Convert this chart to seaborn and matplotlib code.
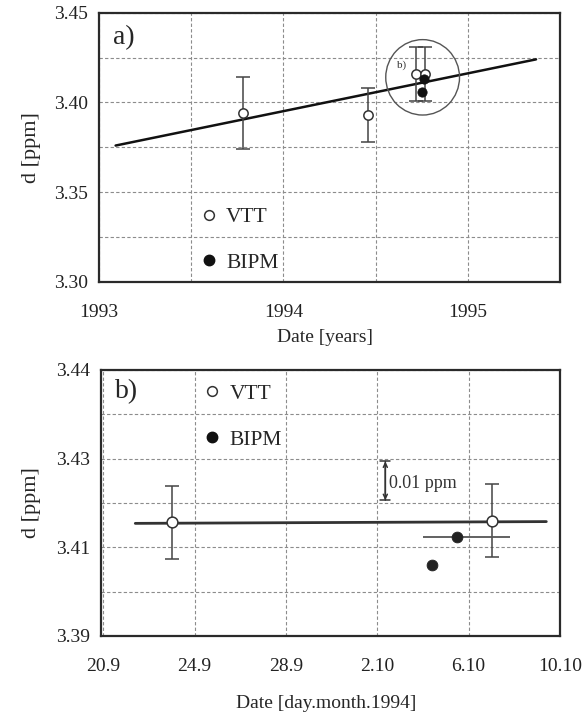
import matplotlib
matplotlib.use("Agg")
import matplotlib.pyplot as plt
from matplotlib.patches import Ellipse
from matplotlib.lines import Line2D
import pandas as pd
import seaborn as sns

# ===================== DATA panel a) (years) =====================
a_vtt_year = [1993.78, 1994.46, 1994.72, 1994.77]
a_vtt_d = [3.394, 3.393, 3.416, 3.416]
a_vtt_err = [0.020, 0.015, 0.015, 0.015]
a_bipm_year = [1994.75, 1994.76]
a_bipm_d = [3.406, 3.413]
a_fit_year = [1993.09, 1995.37]
a_fit_d = [3.376, 3.424]
a_xticks = [1993, 1994, 1995]
a_yticks = [3.30, 3.35, 3.40, 3.45]

# ===================== DATA panel b) (days after 20.9) =====================
b_vtt_day = [3.0, 17.0]
b_vtt_d = [3.4156, 3.4160]
b_vtt_err = [0.0082, 0.0082]
b_bipm_day = [14.4, 15.5]
b_bipm_d = [3.4061, 3.4124]
b_bipm_xerr_lo = [0.0, 1.5]
b_bipm_xerr_hi = [0.0, 2.3]
b_fit_day = [1.4, 19.4]
b_fit_d = [3.4154, 3.4158]
b_xticks = [0, 4, 8, 12, 16, 20]
b_xtick_labels = ["20.9", "24.9", "28.9", "2.10", "6.10", "10.10"]
b_yticks = [3.39, 3.41, 3.43, 3.45]
b_ytick_labels = ["3.39", "3.41", "3.43", "3.44"]

df_a_vtt = pd.DataFrame({"x": a_vtt_year, "d": a_vtt_d, "err": a_vtt_err})
df_a_bipm = pd.DataFrame({"x": a_bipm_year, "d": a_bipm_d})
df_a_fit = pd.DataFrame({"x": a_fit_year, "d": a_fit_d})
df_b_vtt = pd.DataFrame({"x": b_vtt_day, "d": b_vtt_d, "err": b_vtt_err})
df_b_bipm = pd.DataFrame({"x": b_bipm_day, "d": b_bipm_d,
                          "lo": b_bipm_xerr_lo, "hi": b_bipm_xerr_hi})
df_b_fit = pd.DataFrame({"x": b_fit_day, "d": b_fit_d})

# ===================== STYLE =====================
sns.set_theme(style="white")
plt.rcParams["font.family"] = ["Liberation Serif", "DejaVu Serif"]

DARK = "#2a2a2a"
GRID = "#8c8c8c"


def style_axes(ax):
    for sp in ax.spines.values():
        sp.set_color(DARK)
        sp.set_linewidth(1.6)
    ax.grid(True, which="both", color=GRID, linestyle=(0, (3, 2)), linewidth=0.8)
    ax.tick_params(which="both", length=0, labelsize=14, colors="#222222")
    ax.tick_params(axis="x", pad=16)
    ax.tick_params(axis="y", pad=8)
    ax.set_axisbelow(True)


def legend(ax, x0, y0):
    h_vtt = Line2D([], [], ls="none", marker="o", ms=7, mfc="white", mec="#333333", mew=1.1)
    h_bipm = Line2D([], [], ls="none", marker="o", ms=7.5, mfc="#111111", mec="#111111")
    ax.legend([h_vtt, h_bipm], ["VTT", "BIPM"], loc="center left",
              bbox_to_anchor=(x0, y0), frameon=False, fontsize=15.5,
              handlelength=0.6, handletextpad=0.5, labelspacing=1.2,
              borderpad=0, borderaxespad=0)


fig = plt.figure(figsize=(5.88, 7.17), dpi=100)
ax_a = fig.add_axes([0.1684, 0.6067, 0.784, 0.3756])
ax_b = fig.add_axes([0.1718, 0.1130, 0.7806, 0.3710])

# ---------------- panel a) ----------------
sns.lineplot(data=df_a_fit, x="x", y="d", ax=ax_a, color="#111111", lw=1.8)
ax_a.errorbar(df_a_vtt["x"], df_a_vtt["d"], yerr=df_a_vtt["err"], fmt="none",
              ecolor="#444444", elinewidth=1.1, capsize=5, capthick=1.1)
sns.scatterplot(data=df_a_vtt, x="x", y="d", ax=ax_a, marker="o", s=45,
                facecolor="white", edgecolor="#333333", linewidth=1.1, zorder=4)
sns.scatterplot(data=df_a_bipm, x="x", y="d", ax=ax_a, marker="o", s=45,
                color="#111111", edgecolor="#111111", zorder=5)
ax_a.add_patch(Ellipse((1994.755, 3.414), 0.40, 0.042, fill=False,
                       edgecolor="#555555", lw=1.0, zorder=3))
ax_a.text(1994.64, 3.421, "b)", fontsize=8, ha="center", va="center", color="#333333")

ax_a.set_xlim(1993, 1995.5)
ax_a.set_ylim(3.30, 3.45)
ax_a.set_xticks(a_xticks)
ax_a.set_xticks([1993.5, 1994.5], minor=True)
ax_a.set_yticks(a_yticks, labels=[f"{v:.2f}" for v in a_yticks])
ax_a.set_yticks([3.325, 3.375, 3.425], minor=True)
style_axes(ax_a)
ax_a.set_xlabel("Date [years]", fontsize=14)
ax_a.set_ylabel("d [ppm]", fontsize=16)
ax_a.xaxis.set_label_coords(0.49, -0.175)
ax_a.yaxis.set_label_coords(-0.125, 0.5)
ax_a.text(0.03, 0.955, "a)", transform=ax_a.transAxes, fontsize=20, va="top", ha="left")
legend(ax_a, 0.2245, 0.156)

# ---------------- panel b) ----------------
sns.lineplot(data=df_b_fit, x="x", y="d", ax=ax_b, color="#333333", lw=2.0)
ax_b.errorbar(df_b_vtt["x"], df_b_vtt["d"], yerr=df_b_vtt["err"], fmt="none",
              ecolor="#444444", elinewidth=1.1, capsize=5, capthick=1.1)
ax_b.errorbar(df_b_bipm["x"], df_b_bipm["d"], xerr=[df_b_bipm["lo"], df_b_bipm["hi"]],
              fmt="none", ecolor="#555555", elinewidth=1.3, capsize=0)
sns.scatterplot(data=df_b_vtt, x="x", y="d", ax=ax_b, marker="o", s=60,
                facecolor="white", edgecolor="#333333", linewidth=1.1, zorder=4)
sns.scatterplot(data=df_b_bipm, x="x", y="d", ax=ax_b, marker="o", s=60,
                color="#222222", edgecolor="#222222", zorder=5)

# 0.01 ppm scale bar
ax_b.annotate("", xy=(12.35, 3.43), xytext=(12.35, 3.42),
              arrowprops=dict(arrowstyle="|-|,widthA=0.3,widthB=0.3", color="#333333", lw=1.1))
ax_b.annotate("", xy=(12.35, 3.43), xytext=(12.35, 3.42),
              arrowprops=dict(arrowstyle="<->,head_length=0.25,head_width=0.12",
                              color="#333333", lw=1.1))
ax_b.text(12.5, 3.4245, "0.01 ppm", fontsize=13, ha="left", va="center", color="#333333")

ax_b.set_xlim(-0.1, 20)
ax_b.set_ylim(3.39, 3.45)
ax_b.set_xticks(b_xticks, labels=b_xtick_labels)
ax_b.set_yticks(b_yticks, labels=b_ytick_labels)
ax_b.set_yticks([3.40, 3.42, 3.44], minor=True)
style_axes(ax_b)
ax_b.set_xlabel("Date [day.month.1994]", fontsize=14)
ax_b.set_ylabel("d [ppm]", fontsize=16)
ax_b.xaxis.set_label_coords(0.49, -0.22)
ax_b.yaxis.set_label_coords(-0.131, 0.5)
ax_b.text(0.03, 0.965, "b)", transform=ax_b.transAxes, fontsize=20, va="top", ha="left")
legend(ax_b, 0.228, 0.825)

fig.savefig("out.png", dpi=100)
